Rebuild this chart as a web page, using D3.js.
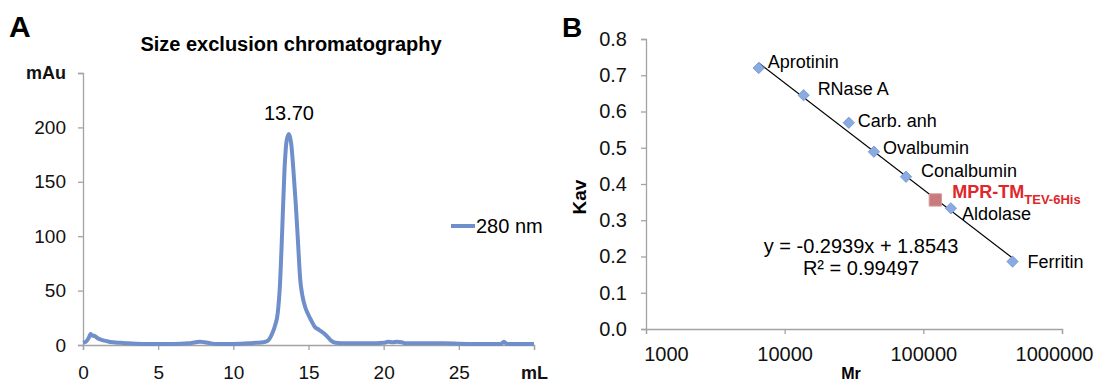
<!DOCTYPE html>
<meta charset="utf-8">
<style>
  body { margin: 0; background: #fff; }
  text { font-family: Arial, "Liberation Sans", sans-serif; }
</style>
<body>
<script src="https://d3js.org/d3.v7.min.js"></script>
<script>
// panel A: size exclusion trace (elution volume in mL, absorbance at 280 nm in mAu)
var volume = [0, 0.2, 0.4, 0.5, 0.6, 0.8, 1.0, 1.3, 1.6, 2.0, 2.5, 3.0, 4, 5, 6, 7, 7.5, 7.8, 8.1, 8.5, 9, 10, 11,
  11.5, 12, 12.3, 12.6, 12.8, 12.95, 13.1, 13.25, 13.4, 13.55, 13.7, 13.85, 14.0, 14.15, 14.3, 14.45, 14.6, 14.8,
  14.95, 15.2, 15.4, 15.7, 16.0, 16.3, 16.5, 16.8, 17.5, 18, 19, 20, 20.3, 20.6, 20.9, 21.2, 21.5, 22, 24, 26,
  27.8, 28, 28.2, 30];
var absorbance = [2, 3, 7, 10, 9, 8, 6, 4.5, 3.5, 2.5, 2, 1.5, 1, 1, 1, 1.5, 2.5, 3, 2.5, 1.5, 1, 1, 1.5,
  2, 2.5, 4, 11, 19, 29, 55, 105, 160, 188, 194, 185, 160, 130, 95, 60, 45, 34,
  29, 22, 17, 14, 11, 7, 4, 2, 1.5, 1.5, 1.5, 2, 3, 2.5, 3, 2.5, 1.5, 1.5, 1.5, 1,
  1, 3, 1, 1];
var peakVolume = 13.70, peakHeight = 194;
var xTicksA = [0, 5, 10, 15, 20, 25, 30];
var yTicksA = [0, 50, 100, 150, 200, 250];

// panel B: calibration standards (Mr, Kav)
var proteins = ["Aprotinin", "RNase A", "Carb. anh", "Ovalbumin", "Conalbumin", "Aldolase", "Ferritin"];
var mr = [6500, 13700, 29000, 44000, 75000, 158000, 440000];
var kav = [0.72, 0.645, 0.569, 0.489, 0.42, 0.333, 0.186];
var sample = {name: "MPR-TM", sub: "TEV-6His", mr: 122000, kav: 0.356};
var slope = -0.2939, intercept = 1.8543, r2 = "0.99497";
var xTicksB = [1000, 10000, 100000, 1000000];
var yTicksB = [0, 0.1, 0.2, 0.3, 0.4, 0.5, 0.6, 0.7, 0.8];

var svg = d3.select("body").append("svg")
    .attr("width", 1095)
    .attr("height", 382);

var axisColor = "#a3a3a3";
var lineBlue = "#6f8fca";

// ---------- panel A ----------
var xA = d3.scaleLinear().domain([0, 30]).range([83, 534]);
var yA = d3.scaleLinear().domain([0, 250]).range([345, 73]);

var gA = svg.append("g");

gA.append("g")
    .attr("transform", "translate(0," + yA(0) + ")")
    .call(d3.axisBottom(xA).tickValues(xTicksA).tickSize(5).tickPadding(16)
      .tickFormat(function(d) { return d === 30 ? "mL" : d; }))
    .call(styleAxis, 19);

gA.append("g")
    .attr("transform", "translate(" + xA(0) + ",0)")
    .call(d3.axisLeft(yA).tickValues(yTicksA).tickSize(5).tickPadding(12)
      .tickFormat(function(d) { return d === 250 ? "mAu" : d; }))
    .call(styleAxis, 19);

gA.selectAll(".tick text")
    .filter(function(d) { return d === 30 || d === 250; })
    .attr("font-weight", "bold")
    .attr("font-size", 18);

var line = d3.line()
    .x(function(d, i) { return xA(volume[i]); })
    .y(function(d) { return yA(d); })
    .curve(d3.curveMonotoneX);

gA.append("path")
    .datum(absorbance)
    .attr("d", line)
    .attr("fill", "none")
    .attr("stroke", lineBlue)
    .attr("stroke-width", 4)
    .attr("stroke-linejoin", "round");

gA.append("text")
    .attr("x", xA(peakVolume))
    .attr("y", yA(peakHeight) - 14)
    .attr("text-anchor", "middle")
    .attr("font-size", 20)
    .text(peakVolume.toFixed(2));

gA.append("line")
    .attr("x1", 451).attr("x2", 475)
    .attr("y1", 226).attr("y2", 226)
    .attr("stroke", lineBlue)
    .attr("stroke-width", 4);
gA.append("text")
    .attr("x", 476).attr("y", 226)
    .attr("dy", "0.35em")
    .attr("font-size", 20)
    .text("280 nm");

gA.append("text")
    .attr("x", 291).attr("y", 51)
    .attr("text-anchor", "middle")
    .attr("font-size", 20)
    .attr("font-weight", "bold")
    .text("Size exclusion chromatography");

svg.append("text")
    .attr("x", 9).attr("y", 37)
    .attr("font-size", 30)
    .attr("font-weight", "bold")
    .text("A");

// ---------- panel B ----------
var xB = d3.scaleLog().domain([1000, 1000000]).range([646, 1062]);
var yB = d3.scaleLinear().domain([0, 0.8]).range([329, 39]);

var gB = svg.append("g");

gB.append("g")
    .attr("transform", "translate(0," + yB(0) + ")")
    .call(d3.axisBottom(xB).tickValues(xTicksB).tickSize(5).tickPadding(13)
      .tickFormat(d3.format("d")))
    .call(styleAxis, 20);

// Excel nudges the end labels inside the plot
gB.selectAll(".tick text")
    .attr("dx", function(d) { return d === 1000 ? 20 : d === 1000000 ? -8 : 0; });

gB.append("g")
    .attr("transform", "translate(" + xB(1000) + ",0)")
    .call(d3.axisLeft(yB).tickValues(yTicksB).tickSize(5).tickPadding(14)
      .tickFormat(d3.format(".1f")))
    .call(styleAxis, 20);

// trendline over the range of the standards
var fit = d3.line()
    .x(function(d) { return xB(d); })
    .y(function(d) { return yB(slope * Math.log10(d) + intercept); });

gB.append("path")
    .datum(d3.extent(mr))
    .attr("d", fit)
    .attr("stroke", "#000")
    .attr("stroke-width", 1.2)
    .attr("fill", "none");

gB.selectAll(".std")
    .data(proteins)
    .enter().append("path")
    .attr("class", "std")
    .attr("d", d3.symbol().type(d3.symbolSquare).size(64))
    .attr("transform", function(d, i) {
      return "translate(" + xB(mr[i]) + "," + yB(kav[i]) + ") rotate(45)";
    })
    .attr("fill", "#8aaae2")
    .attr("stroke", "#7496d4")
    .attr("stroke-width", 0.8);

gB.append("path")
    .attr("d", d3.symbol().type(d3.symbolSquare).size(150))
    .attr("transform", "translate(" + xB(sample.mr) + "," + yB(sample.kav) + ")")
    .attr("fill", "#c97a7a")
    .attr("stroke", "#d49a9a")
    .attr("stroke-width", 1);

// label offsets relative to each marker
var labelDx = [9, 14, 9, 9, 15, 11, 15];
var labelDy = [-6, -6, -2, -4, -6, 5, 0];

gB.selectAll(".lbl")
    .data(proteins)
    .enter().append("text")
    .attr("class", "lbl")
    .attr("x", function(d, i) { return xB(mr[i]) + labelDx[i]; })
    .attr("y", function(d, i) { return yB(kav[i]) + labelDy[i]; })
    .attr("dy", "0.35em")
    .attr("font-size", 18)
    .text(function(d) { return d; });

var sampleLabel = gB.append("text")
    .attr("x", xB(sample.mr) + 17)
    .attr("y", yB(sample.kav) - 8)
    .attr("dy", "0.35em")
    .attr("fill", "#e0262a")
    .attr("font-weight", "bold")
    .attr("font-size", 18);
sampleLabel.append("tspan").text(sample.name);
sampleLabel.append("tspan")
    .attr("font-size", 13)
    .attr("dy", 6)
    .text(sample.sub);

gB.append("text")
    .attr("x", 861).attr("y", 246)
    .attr("dy", "0.35em")
    .attr("text-anchor", "middle")
    .attr("font-size", 20)
    .text("y = " + slope + "x + " + intercept);
gB.append("text")
    .attr("x", 861).attr("y", 268)
    .attr("dy", "0.35em")
    .attr("text-anchor", "middle")
    .attr("font-size", 20)
    .text("R\u00b2 = " + r2);

gB.append("text")
    .attr("x", 851).attr("y", 379)
    .attr("text-anchor", "middle")
    .attr("font-size", 16)
    .attr("font-weight", "bold")
    .text("Mr");

gB.append("text")
    .attr("transform", "translate(586,197) rotate(-90)")
    .attr("text-anchor", "middle")
    .attr("font-size", 19)
    .attr("font-weight", "bold")
    .text("Kav");

svg.append("text")
    .attr("x", 562).attr("y", 37)
    .attr("font-size", 28)
    .attr("font-weight", "bold")
    .text("B");

function styleAxis(g, fs) {
  g.select(".domain").attr("stroke", axisColor).attr("stroke-width", 1.3);
  g.selectAll(".tick line").attr("stroke", axisColor).attr("stroke-width", 1.3);
  g.selectAll(".tick text")
    .attr("fill", "#111")
    .attr("font-size", fs)
    .attr("font-family", "Arial, 'Liberation Sans', sans-serif");
}
</script>
</body>
